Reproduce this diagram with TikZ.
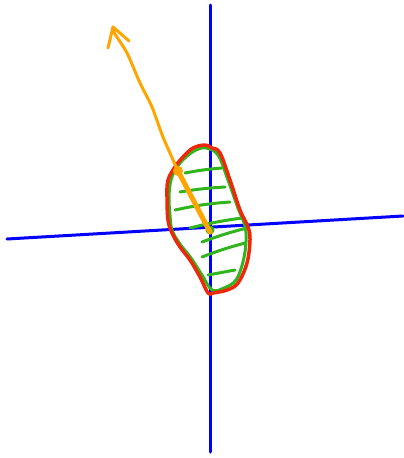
\documentclass[tikz,border=0pt]{standalone}
\usetikzlibrary{calc}
\definecolor{penblue}{RGB}{0,0,255}
\definecolor{penred}{RGB}{240,40,10}
\definecolor{pengreen}{RGB}{50,180,30}
\definecolor{penorange}{RGB}{255,165,0}
\tikzset{
  pen/.style={line cap=round, line join=round},
  axis/.style={pen, draw=penblue, line width=3pt},
  outline/.style={pen, draw=penred, line width=3.5pt},
  hatch/.style={pen, draw=pengreen, line width=3pt},
  vec/.style={pen, draw=penorange, line width=3pt}
}
\begin{document}
\begin{tikzpicture}[x=1pt,y=-1pt]
\useasboundingbox (0,0) rectangle (404,458);
% axes
\coordinate (vt) at (210,5);
\coordinate (vb) at (210,452);
\coordinate (hl) at (7,239);
\coordinate (hr) at (403,216);
\draw[axis] (vt) -- (vb);
\draw[axis] (hl) -- (hr);
% green outline
\draw[hatch] plot[smooth cycle, tension=0.6] coordinates {
 (206,148) (218,155) (228,180) (238,208) (245,226) (246,242) (243,262)
 (236,280) (224,288) (212,290) (202,275) (191,258) (180,244) (172,230)
 (170,215) (169,197) (171,180) (177,167) (186,157) (196,150)};
% hatching
\draw[hatch] (185,173) to[bend left=3] (222,168);
\draw[hatch] (180,192) to[bend left=3] (225,187);
\draw[hatch] (175,210) to[bend left=4] (230,202);
\draw[hatch] (190,228) to[bend left=3] (242,218);
\draw[hatch] (202,242) to[bend left=3] (247,228);
\draw[hatch] (202,257) to[bend left=3] (245,243);
\draw[hatch] (208,275) -- (235,270);
\fill[pengreen] (210,230) circle (4.5pt);
% red outline
\draw[outline] plot[smooth cycle, tension=0.6] coordinates {
 (205,145) (212,148) (220,153) (230,180) (240,210) (248,227) (250,240)
 (247,263) (238,283) (227,290) (213,293) (208,293) (200,277) (190,260)
 (180,247) (172,233) (168,220) (167,197) (168,180) (175,167) (183,157) (193,148)};
% orange vector
\coordinate (o) at (210,232);
\coordinate (m) at (178,171);
\coordinate (tip) at (113,27);
\coordinate (bl) at (108,48);
\coordinate (br) at (129,41);
\draw[vec, line width=5pt] (o) -- (m);
\fill[penorange] (m) circle (5pt);
\draw[vec] plot[smooth, tension=0.5] coordinates {(m) (163,137) (152,107) (140,83) (127,53) (115,34) (tip)};
\draw[vec] (bl) -- (tip) -- (br);
\end{tikzpicture}
\end{document}
